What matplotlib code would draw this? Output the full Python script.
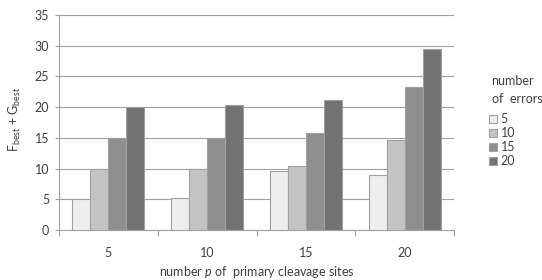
import numpy as np
import matplotlib.pyplot as plt

plt.rcParams.update(
    {
        "font.family": ["Lato", "DejaVu Sans"],
        "mathtext.fontset": "custom",
        "mathtext.rm": "Lato",
        "mathtext.it": "Lato:italic",
        "text.color": "#404040",
        "axes.labelcolor": "#404040",
        "xtick.color": "#a0a0a0",
        "ytick.color": "#a0a0a0",
        "xtick.labelcolor": "#404040",
        "ytick.labelcolor": "#404040",
    }
)

# primary cleavage sites p (x categories)
sites = ["5", "10", "15", "20"]
# number of errors (legend series)
errors = ["5", "10", "15", "20"]
err5 = [5.0, 5.15, 9.6, 9.0]
err10 = [10.0, 10.0, 10.4, 14.6]
err15 = [15.0, 15.0, 15.8, 23.2]
err20 = [20.0, 20.4, 21.1, 29.4]
series = [err5, err10, err15, err20]
colors = ["#eeeeee", "#c4c4c4", "#8f8f8f", "#737373"]

fs = 9

fig = plt.figure(figsize=(5.42, 2.80), dpi=100)
ax = fig.add_axes([0.1089, 0.1786, 0.7288, 0.7679])

x = np.arange(len(sites))
w = 0.182
for i, (vals, col, lab) in enumerate(zip(series, colors, errors)):
    ax.bar(x + (i - 1.5) * w, vals, w, color=col, edgecolor="#a0a0a0",
           linewidth=0.8, label=lab, zorder=3)

ax.set_xlim(-0.5, len(sites) - 0.5)
ax.set_ylim(0, 35)
ax.set_yticks(np.arange(0, 36, 5))
ax.yaxis.grid(True, color="#a0a0a0", linewidth=0.8, zorder=0)
ax.set_axisbelow(True)

ax.set_xticks(x)
ax.set_xticklabels(sites)
ax.set_xticks(np.arange(-0.5, len(sites), 1.0), minor=True)
ax.tick_params(axis="x", which="major", length=0, pad=12, labelsize=fs)
ax.tick_params(axis="x", which="minor", length=4, width=0.8)
ax.tick_params(axis="y", length=3, width=0.8, pad=4, labelsize=fs)

for side in ["top", "right"]:
    ax.spines[side].set_visible(False)
for side in ["left", "bottom"]:
    ax.spines[side].set_color("#a0a0a0")
    ax.spines[side].set_linewidth(0.8)

# axis titles placed in figure coordinates
fig.text(0.028, 0.575, r"F$_\mathregular{best}$ + G$_\mathregular{best}$", fontsize=fs,
         rotation=90, ha="center", va="center")
fig.text(0.473, 0.028, r"number $\mathit{p}$ of  primary cleavage sites", fontsize=fs,
         ha="center", va="center")

fig.text(0.907, 0.68, "number\nof  errors", fontsize=fs, ha="left", va="center",
         linespacing=1.6)
leg = fig.legend(loc="upper left", bbox_to_anchor=(0.903, 0.595), frameon=False,
                 fontsize=fs, handlelength=0.6, handleheight=0.6,
                 handletextpad=0.3, labelspacing=0.15, borderaxespad=0,
                 borderpad=0)

fig.savefig("out.png", dpi=100)
